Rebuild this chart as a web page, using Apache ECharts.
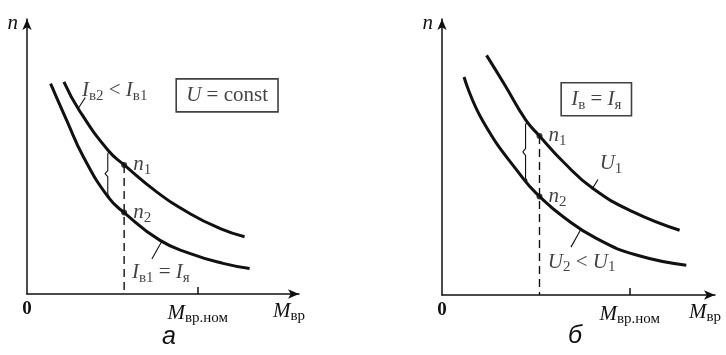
<!DOCTYPE html>
<html>
<head>
<meta charset="utf-8">
<script src="https://cdn.jsdelivr.net/npm/echarts@6/dist/echarts.min.js"></script>
<style>
  html, body { margin: 0; padding: 0; background: #fff; }
  #chart { width: 726px; height: 355px; }
</style>
</head>
<body>
<div id="chart"></div>
<script>
// panel "а": U = const, two field currents
var upperA = [[1.33, 7.56], [1.88, 6.55], [2.92, 5.12], [3.5, 4.6], [4.67, 3.64], [5.86, 2.87], [6.94, 2.34], [7.84, 2.04]];
var lowerA = [[0.85, 7.50], [1.43, 6.19], [2.03, 4.89], [2.92, 3.46], [3.5, 2.9], [4.78, 1.92], [5.86, 1.45], [7.06, 1.09], [8.02, 0.91]];
var pointsA = [[3.5, 4.6, '{i|n}{s|1}'], [3.5, 2.9, '{i|n}{s|2}']];
var braceA = [[2.97, 5.1], [2.91, 5.0], [2.91, 4.4], [2.81, 4.29], [2.91, 4.18], [2.91, 3.56], [2.97, 3.46]];
var leadersA = [[[1.85, 6.62], [2.1, 7.0]], [[4.86, 1.88], [4.5, 1.25]]];
var notesA = [
  [1.98, 7.26, 'left', '{i|I}{s|в2}{r| < }{i|I}{s|в1}'],
  [3.78, 0.75, 'left', '{i|I}{s|в1}{r| = }{i|I}{s|я}']
];
var boxA = [7.21, 7.08, '{i|U}{r| = const}'];
var nomA = 6.15;

// panel "б": I_в = I_я, two voltages
var upperB = [[1.60, 8.51], [2.26, 7.45], [3.01, 6.21], [3.5, 5.65], [4.35, 4.73], [5.42, 3.78], [6.86, 2.95], [8.53, 2.30]];
var lowerB = [[0.79, 7.74], [1.48, 6.15], [2.91, 4.14], [3.5, 3.5], [4.35, 2.78], [5.54, 2.01], [6.98, 1.42], [8.77, 1.06]];
var pointsB = [[3.5, 5.65, '{i|n}{s|1}'], [3.5, 3.5, '{i|n}{s|2}']];
var braceB = [[3.06, 6.15], [3.0, 6.05], [3.0, 5.2], [2.9, 5.08], [3.0, 4.96], [3.0, 4.15], [3.06, 4.05]];
var leadersB = [[[5.38, 3.75], [5.6, 4.1]], [[5.0, 2.36], [4.63, 1.7]]];
var notesB = [
  [5.66, 4.68, 'left', '{i|U}{s|1}'],
  [3.80, 1.17, 'left', '{i|U}{s|2}{r| < }{i|U}{s|1}']
];
var boxB = [5.54, 6.95, '{i|I}{s|в}{r| = }{i|I}{s|я}'];
var nomB = 6.74;

var ink = '#111';
var serif = 'Liberation Serif';
var rich = {
  i: { fontFamily: serif, fontStyle: 'italic', fontSize: 21, lineHeight: 26, color: ink },
  r: { fontFamily: serif, fontSize: 21, lineHeight: 26, color: ink },
  s: { fontFamily: serif, fontSize: 15, verticalAlign: 'bottom', color: ink },
  z: { fontFamily: serif, fontSize: 19, fontWeight: 'bold', color: ink }
};

function axesFor(idx, nom) {
  var x = {
    type: 'value', gridIndex: idx, min: 0, max: 9.8,
    splitLine: { show: false },
    axisLine: { lineStyle: { color: ink, width: 1.5 }, symbol: ['none', 'arrow'], symbolSize: [7, 11] },
    axisTick: { show: true, customValues: [nom], length: 7, inside: true, lineStyle: { color: ink, width: 1.5 } },
    axisLabel: {
      customValues: [0, nom], margin: 6, rich: rich,
      formatter: function (v) { return v === 0 ? '{z|0}' : '{i|M}{s|вр.ном}'; }
    },
    name: '{i|M}{s|вр}', nameLocation: 'end', nameGap: 6,
    nameTextStyle: { rich: rich, align: 'right', verticalAlign: 'top', padding: [4, 0, 0, 0] }
  };
  var y = {
    type: 'value', gridIndex: idx, min: 0, max: 9.8,
    splitLine: { show: false }, axisTick: { show: false }, axisLabel: { show: false },
    axisLine: { lineStyle: { color: ink, width: 1.5 }, symbol: ['none', 'arrow'], symbolSize: [7, 11] },
    name: '{i|n}', nameLocation: 'end', nameGap: -4,
    nameTextStyle: { rich: rich, align: 'right', verticalAlign: 'middle', padding: [0, 9, 0, 0] }
  };
  return [x, y];
}

function seriesFor(idx, upper, lower, points, brace, leaders, notes, box) {
  var base = { xAxisIndex: idx, yAxisIndex: idx, silent: true, animation: false };
  var out = [];
  [upper, lower].forEach(function (c) {
    out.push(Object.assign({ type: 'line', data: c, smooth: 0.5, symbol: 'none', lineStyle: { color: ink, width: 3 } }, base));
  });
  // dashed drop from n1 to the axis
  out.push(Object.assign({ type: 'line', data: [[points[0][0], points[0][1]], [points[0][0], 0]], symbol: 'none',
    lineStyle: { color: ink, width: 1.4, type: [8, 5] } }, base));
  out.push(Object.assign({ type: 'line', data: brace, symbol: 'none', lineStyle: { color: ink, width: 1.1 } }, base));
  leaders.forEach(function (l) {
    out.push(Object.assign({ type: 'line', data: l, symbol: 'none', lineStyle: { color: ink, width: 1.1 } }, base));
  });
  out.push(Object.assign({
    type: 'scatter', symbolSize: 6, itemStyle: { color: ink }, z: 5,
    data: points.map(function (p) { return { value: [p[0], p[1]], text: p[2] }; }),
    label: { show: true, position: 'right', distance: 6, rich: rich, formatter: function (p) { return p.data.text; } }
  }, base));
  var items = notes.map(function (n) {
    return { value: [n[0], n[1]], text: n[3], label: { align: n[2] } };
  });
  items.push({ value: [box[0], box[1]], text: box[2],
    label: { align: 'center', borderColor: ink, borderWidth: 1.6, padding: [4, 10, 3, 10] } });
  out.push(Object.assign({
    type: 'scatter', symbolSize: 1, itemStyle: { color: 'transparent' }, z: 6,
    data: items,
    label: { show: true, position: 'inside', verticalAlign: 'middle', rich: rich, formatter: function (p) { return p.data.text; } }
  }, base));
  return out;
}

var chart = echarts.init(document.getElementById('chart'), null, { renderer: 'canvas' });
var axA = axesFor(0, nomA), axB = axesFor(1, nomB);
var captionStyle = { fontFamily: 'Liberation Sans', fontStyle: 'italic', fontWeight: 'normal', fontSize: 25, color: ink };
chart.setOption({
  backgroundColor: '#fff',
  animation: false,
  title: [
    { text: 'а', left: 162, top: 325, padding: 0, textStyle: captionStyle },
    { text: 'б', left: 568, top: 324, padding: 0, textStyle: captionStyle }
  ],
  grid: [
    { left: 27, top: 19, width: 272, height: 275 },
    { left: 442, top: 19, width: 273, height: 276 }
  ],
  xAxis: [axA[0], axB[0]],
  yAxis: [axA[1], axB[1]],
  series: seriesFor(0, upperA, lowerA, pointsA, braceA, leadersA, notesA, boxA)
    .concat(seriesFor(1, upperB, lowerB, pointsB, braceB, leadersB, notesB, boxB))
});
</script>
</body>
</html>
